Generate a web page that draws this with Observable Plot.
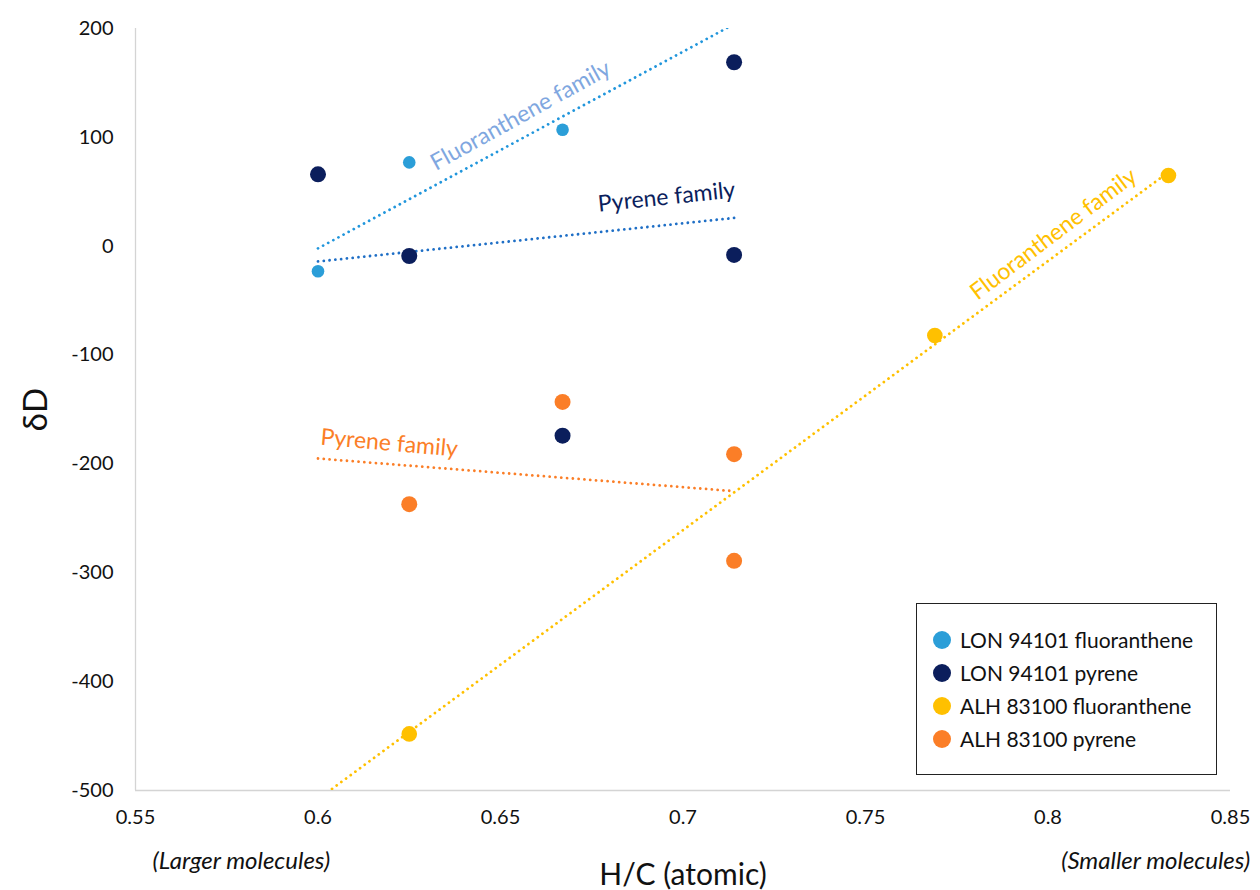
<!DOCTYPE html>
<html><head><meta charset="utf-8">
<script src="https://cdn.jsdelivr.net/npm/d3@7"></script>
<script src="https://cdn.jsdelivr.net/npm/@observablehq/plot@0.6"></script>
<style>
body{margin:0;background:#fff;font-family:Lato,"Open Sans",sans-serif;}
#wrap{position:relative;width:1260px;height:890px;overflow:hidden;}
#wrap svg{position:absolute;left:0;top:0;}
g[aria-label="x-axis label"] text{font-size:30px;fill:#111;}
g[aria-label="y-axis label"] text{font-size:33px;fill:#111;}
#legend{position:absolute;left:916px;top:603px;width:301px;height:172px;border:1.6px solid #222;box-sizing:border-box;background:#fff;padding:19px 0 0 16px;}
.row{display:flex;align-items:center;height:33px;font-size:21px;color:#111;}
.sw{width:18px;height:18px;border-radius:50%;margin-right:9px;flex:none;}
</style></head><body><div id="wrap"></div>
<script>
// ---- data ----
const seriesNames = ["LON 94101 fluoranthene", "LON 94101 pyrene", "ALH 83100 fluoranthene", "ALH 83100 pyrene"];
const seriesColors = ["#2b9ed8", "#0b1e5c", "#ffc000", "#fb7e27"];
const seriesRadius = [6.3, 8, 7.8, 8];

const lonFluX = [0.6, 0.625, 0.667];
const lonFluY = [-23, 77, 107];
const lonPyrX = [0.6, 0.625, 0.667, 0.714, 0.714];
const lonPyrY = [66, -9, -174, 169, -8];
const alhFluX = [0.625, 0.769, 0.833];
const alhFluY = [-448, -82, 65];
const alhPyrX = [0.625, 0.667, 0.714, 0.714];
const alhPyrY = [-237, -143, -191, -289];

// trend lines (endpoints)
const trendNames = ["LON fluoranthene trend", "LON pyrene trend", "ALH fluoranthene trend", "ALH pyrene trend"];
const trendColors = ["#2196dc", "#1f6fc6", "#ffc000", "#fb7e27"];
const trendX = [[0.6, 0.714], [0.6, 0.714], [0.6, 0.833], [0.6, 0.714]];
const trendY = [[-2, 204], [-14, 26], [-508, 68], [-195, -225]];

// trend labels
const labelTexts = ["Fluoranthene family", "Pyrene family", "Pyrene family", "Fluoranthene family"];
const labelColors = ["#7fa7e0", "#0b1e5c", "#fb7e27", "#ffc000"];
const labelX = [0.6555, 0.6955, 0.6195, 0.8015];
const labelY = [120, 45, -181, 11];
const labelRotate = [-29, -6, 5, -37];

const xTicks = [0.55, 0.6, 0.65, 0.7, 0.75, 0.8, 0.85];
const yTicks = [200, 100, 0, -100, -200, -300, -400, -500];
const xTitle = "H/C (atomic)";
const yTitle = "δD";
const notes = ["(Larger molecules)", "(Smaller molecules)"];
const notesX = [0.579, 0.8295];

// ---- build tables ----
const seriesData = [[lonFluX, lonFluY], [lonPyrX, lonPyrY], [alhFluX, alhFluY], [alhPyrX, alhPyrY]];
const points = seriesData.flatMap(([xs, ys], i) => xs.map((x, j) => ({x, y: ys[j], s: i})));
const trends = trendX.flatMap((xs, i) => xs.map((x, j) => ({x, y: trendY[i][j], s: i})));
const labels = labelTexts.map((t, i) => ({t, x: labelX[i], y: labelY[i], c: labelColors[i], r: labelRotate[i]}));
const noteData = notes.map((t, i) => ({t, x: notesX[i]}));

const chart = Plot.plot({
  width: 1260, height: 890,
  marginLeft: 135, marginRight: 30, marginTop: 28, marginBottom: 100,
  style: {fontFamily: "Lato, 'Open Sans', sans-serif", fontSize: "20px", color: "#111", background: "transparent"},
  x: {domain: [0.55, 0.85]},
  y: {domain: [-500, 200]},
  marks: [
    Plot.ruleX([0.55], {stroke: "#d4d4d4", strokeWidth: 1.3}),
    Plot.ruleY([-500], {stroke: "#d4d4d4", strokeWidth: 1.3}),
    Plot.axisX({ticks: xTicks, tickSize: 0, tickPadding: 19, tickFormat: d => String(d), label: xTitle, labelAnchor: "center", labelArrow: "none", labelOffset: 94}),
    Plot.axisY({ticks: yTicks, tickSize: 0, tickPadding: 22, tickFormat: d => String(d), label: yTitle, labelAnchor: "center", labelArrow: "none", labelOffset: 112}),
    ...trendColors.map((c, i) => Plot.line(trends.filter(d => d.s === i), {x: "x", y: "y", stroke: c, strokeWidth: 2.8, strokeDasharray: "0.01 5.8", strokeLinecap: "round", clip: true})),
    ...seriesColors.map((c, i) => Plot.dot(points.filter(d => d.s === i), {x: "x", y: "y", r: seriesRadius[i], fill: c, stroke: "none"})),
    ...labels.map(l => Plot.text([l], {x: "x", y: "y", text: "t", fill: l.c, rotate: l.r, fontSize: 23})),
    Plot.text(noteData, {x: "x", text: "t", frameAnchor: "bottom", dy: 78, fontStyle: "italic", fontSize: 24, fill: "#111"})
  ]
});
const wrap = document.getElementById("wrap");
wrap.appendChild(chart);
const leg = document.createElement("div");
leg.id = "legend";
leg.innerHTML = seriesNames.map((n, i) => `<div class="row"><span class="sw" style="background:${seriesColors[i]}"></span>${n}</div>`).join("");
wrap.appendChild(leg);
</script>
</body></html>
